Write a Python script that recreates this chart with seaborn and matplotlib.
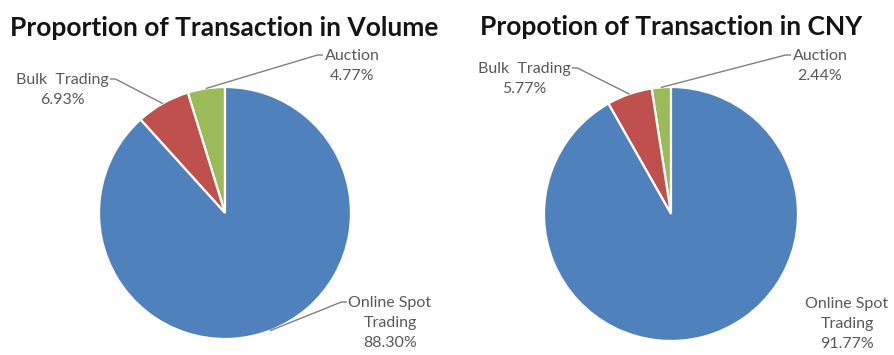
import numpy as np
import matplotlib
matplotlib.use("Agg")
import matplotlib.pyplot as plt
import seaborn as sns

# Transaction mix, in the order the slices are drawn (counter-clockwise from 12 o'clock)
categories = ["Auction", "Bulk Trading", "Online Spot Trading"]
label_text = ["Auction", "Bulk  Trading", "Online Spot\nTrading"]
volume_share = [4.77, 6.93, 88.30]
cny_share = [2.44, 5.77, 91.77]
titles = ["Proportion of Transaction in Volume", "Propotion of Transaction in CNY"]

sns.set_theme(style="white")
plt.rcParams["font.family"] = ["Lato", "DejaVu Sans"]

colors = ["#9BBB59", "#C0504D", "#4F81BD"]
W, H = 894, 355

fig = plt.figure(figsize=(W / 100, H / 100), dpi=100)
ax = fig.add_axes([0, 0, 1, 1])


def py(y):
    # convert a top-down pixel row into the upward data axis
    return H - y


panels = [
    dict(values=volume_share, title=titles[0], center=(225, 213), r=126, title_xy=(224, 28),
         labels=[(352, 66, True), (62, 90, True), (390, 323, True)]),
    dict(values=cny_share, title=titles[1], center=(671, 214), r=127, title_xy=(671, 27),
         labels=[(820, 66, True), (524, 79, True), (847, 324, False)]),
]

text_color = "#595959"
line_color = "#808080"

all_wedges = []
for p in panels:
    cx, cy = p["center"]
    wedges, _ = ax.pie(
        p["values"], colors=colors, startangle=90, counterclock=True,
        center=(cx, py(cy)), radius=p["r"], frame=False,
        wedgeprops=dict(edgecolor="white", linewidth=1.6),
    )
    all_wedges.append(wedges)

ax.set_xlim(0, W)
ax.set_ylim(0, H)
ax.set_aspect("auto")
ax.axis("off")

for p, wedges in zip(panels, all_wedges):
    cx, cy = p["center"]
    r = p["r"]
    ax.text(p["title_xy"][0], py(p["title_xy"][1]), p["title"], ha="center", va="center",
            fontsize=19, fontweight="bold", color="#141414")

    for w, val, txt, (lx, ly, leader) in zip(wedges, p["values"], label_text, p["labels"]):
        s = f"{txt}\n{val:.2f}%"
        n_lines = s.count("\n") + 1
        line_h = 20
        # top line's centre row, then stack the rest below it
        top = ly - (n_lines - 1) * line_h / 2
        for i, line in enumerate(s.split("\n")):
            ax.text(lx, py(top + i * line_h), line, ha="center", va="center",
                    fontsize=11.5, color=text_color)
        if leader:
            mid = np.deg2rad((w.theta1 + w.theta2) / 2)
            tx = cx + r * np.cos(mid)
            ty = py(cy) + r * np.sin(mid)
            first = s.split("\n")[0]
            t0 = ax.text(lx, py(top), first, ha="center", va="center",
                         fontsize=11.5, color=text_color, alpha=0)
            fig.canvas.draw()
            bb = t0.get_window_extent().transformed(ax.transData.inverted())
            ay = py(top) + 1
            if tx < bb.x0:
                x0 = bb.x0 - 2
                pts_x = [x0, x0 - 5, tx]
            else:
                x0 = bb.x1 + 2
                pts_x = [x0, x0 + 5, tx]
            ax.plot(pts_x, [ay, ay, ty], color=line_color, lw=1.0, solid_capstyle="round")

fig.savefig("out.png", dpi=100, facecolor="white")
